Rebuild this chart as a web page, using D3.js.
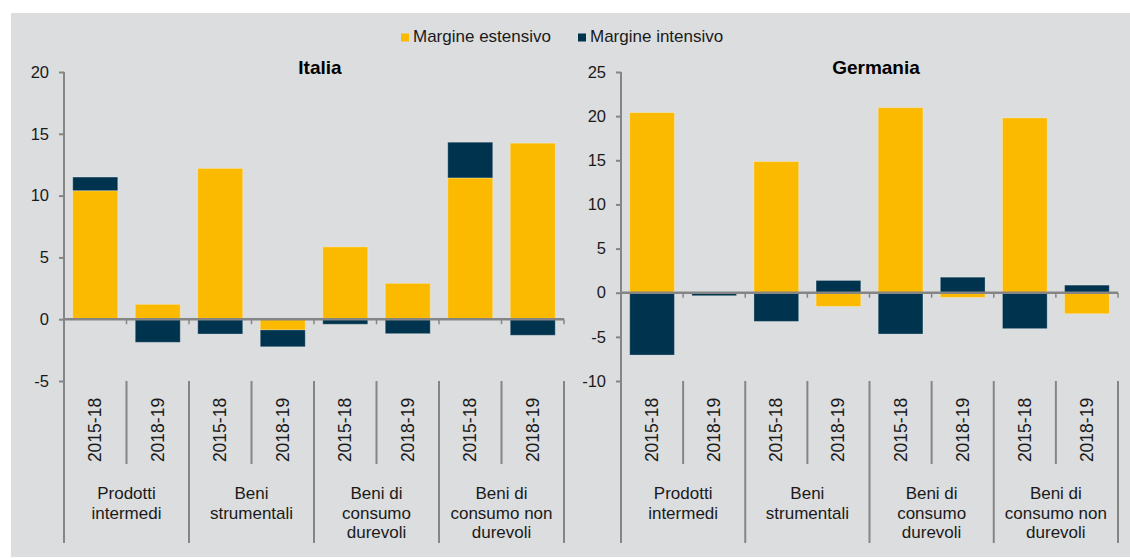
<!DOCTYPE html>
<html>
<head>
<meta charset="utf-8">
<script src="https://cdn.jsdelivr.net/npm/d3@7"></script>
<style>
  html, body { margin: 0; padding: 0; background: #ffffff; }
  svg { display: block; font-family: "Liberation Sans", Arial, sans-serif; }
</style>
</head>
<body>
<svg id="chart" width="1130" height="558"></svg>
<script>
// ---- Data ----
const groupLabels = ["Prodotti\nintermedi", "Beni\nstrumentali", "Beni di\nconsumo\ndurevoli", "Beni di\nconsumo non\ndurevoli"];
const periods = ["2015-18", "2018-19"];
const seriesNames = ["Margine estensivo", "Margine intensivo"];
const seriesColors = ["#FBBA00", "#00334D"];

const italiaEstensivo = [10.4, 1.2, 12.2, -0.87, 5.85, 2.9, 11.43, 14.24];
const italiaIntensivo = [1.1, -1.87, -1.2, -1.36, -0.41, -1.17, 2.89, -1.3];
const germaniaEstensivo = [20.4, 0, 14.85, -1.55, 20.96, -0.53, 19.8, -2.38];
const germaniaIntensivo = [-7.06, -0.34, -3.25, 1.39, -4.68, 1.76, -4.07, 0.86];

const italiaTicks = [-5, 0, 5, 10, 15, 20];
const germaniaTicks = [-10, -5, 0, 5, 10, 15, 20, 25];

// ---- Layout ----
const svg = d3.select("#chart");
svg.append("rect").attr("x", 11).attr("y", 13).attr("width", 1119).attr("height", 544).attr("fill", "#DCDDDF");

const axisColor = "#858585";
const textColor = "#1a1a1a";
const plotTop = 72, plotBottom = 381, labelRowBottom = 464, groupBottom = 543;

const categories = [];
groupLabels.forEach((g, gi) => periods.forEach(p => categories.push({ group: gi, period: p })));

function drawPanel(title, x0, x1, titleX, domain, ticks, est, int) {
  const g = svg.append("g");
  const y = d3.scaleLinear().domain(domain).range([plotBottom, plotTop]);
  const x = d3.scaleBand().domain(d3.range(categories.length)).range([x0, x1]).paddingInner(0.28).paddingOuter(0.14);
  const step = (x1 - x0) / categories.length;

  // title
  g.append("text").attr("x", titleX).attr("y", 74).attr("text-anchor", "middle")
    .attr("font-size", 19).attr("font-weight", "bold").attr("fill", "#000").text(title);

  // bars
  const rows = categories.map((c, i) => ({ i, est: est[i], int: int[i] }));
  const stack = d3.stack().keys(["est", "int"]).offset(d3.stackOffsetDiverging);
  const layers = stack(rows);
  layers.forEach((layer, li) => {
    g.append("g").selectAll("rect").data(layer).join("rect")
      .attr("x", d => x(d.data.i))
      .attr("width", x.bandwidth())
      .attr("y", d => y(Math.max(d[0], d[1])))
      .attr("height", d => Math.abs(y(d[0]) - y(d[1])))
      .attr("fill", seriesColors[li])
      .attr("stroke", "rgba(255,255,255,0.28)")
      .attr("stroke-width", 1);
  });

  // y axis
  const yAxis = d3.axisLeft(y).tickValues(ticks).tickSize(5).tickPadding(10).tickFormat(d => String(d));
  const ya = g.append("g").attr("transform", `translate(${x0},0)`).call(yAxis);
  ya.select(".domain").remove();
  ya.selectAll(".tick line").attr("stroke", axisColor).attr("stroke-width", 2);
  ya.selectAll(".tick text").attr("font-size", 16.5).attr("fill", textColor)
    .attr("font-family", '"Liberation Sans", Arial, sans-serif');
  g.append("line").attr("x1", x0).attr("x2", x0).attr("y1", plotTop).attr("y2", groupBottom)
    .attr("stroke", axisColor).attr("stroke-width", 2);

  // zero axis line + ticks
  const y0 = y(0);
  g.append("line").attr("x1", x0).attr("x2", x1).attr("y1", y0).attr("y2", y0)
    .attr("stroke", axisColor).attr("stroke-width", 2.5);
  d3.range(1, categories.length + 1).forEach(k => {
    const xx = x0 + k * step;
    g.append("line").attr("x1", xx).attr("x2", xx).attr("y1", y0).attr("y2", y0 + 5)
      .attr("stroke", axisColor).attr("stroke-width", 1.5);
  });

  // category separators
  d3.range(1, categories.length + 1).forEach(k => {
    const xx = x0 + k * step;
    const isGroup = k % periods.length === 0;
    g.append("line").attr("x1", xx).attr("x2", xx).attr("y1", plotBottom)
      .attr("y2", isGroup ? groupBottom : labelRowBottom)
      .attr("stroke", axisColor).attr("stroke-width", 2);
  });

  // period labels (rotated)
  categories.forEach((c, i) => {
    const cx = x0 + (i + 0.5) * step;
    g.append("text").attr("transform", `translate(${cx},430) rotate(-90)`)
      .attr("text-anchor", "middle").attr("dominant-baseline", "central")
      .attr("font-size", 17.5).attr("fill", textColor).text(c.period);
  });

  // group labels
  groupLabels.forEach((lab, gi) => {
    const cx = x0 + (gi * periods.length + periods.length / 2) * step;
    const t = g.append("text").attr("text-anchor", "middle").attr("font-size", 17).attr("fill", textColor);
    lab.split("\n").forEach((line, li) => {
      t.append("tspan").attr("x", cx).attr("y", 499 + li * 19.6).text(line);
    });
  });
}

drawPanel("Italia", 64, 564, 320, [-5, 20], italiaTicks, italiaEstensivo, italiaIntensivo);
drawPanel("Germania", 621, 1118, 876, [-10, 25], germaniaTicks, germaniaEstensivo, germaniaIntensivo);

// legend
const legendX = [401, 578];
seriesNames.forEach((name, i) => {
  svg.append("rect").attr("x", legendX[i]).attr("y", 33.5).attr("width", 8).attr("height", 8).attr("fill", seriesColors[i]);
  svg.append("text").attr("x", legendX[i] + 12).attr("y", 41.5).attr("font-size", 17).attr("fill", textColor).text(name);
});
</script>
</body>
</html>
